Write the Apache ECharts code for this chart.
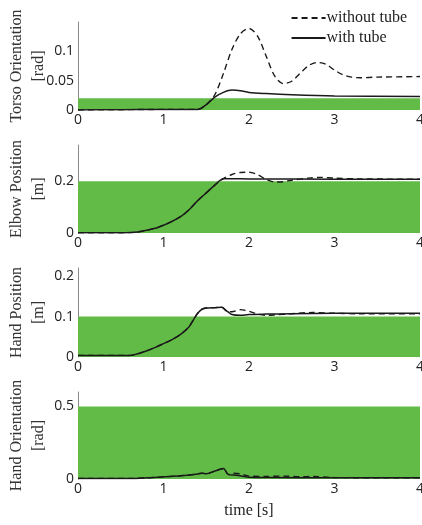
<!DOCTYPE html>
<html>
<head>
<meta charset="utf-8">
<script src="https://cdn.jsdelivr.net/npm/echarts@6/dist/echarts.min.js"></script>
<style>
  html, body { margin: 0; padding: 0; background: #fff; }
  #chart { width: 422px; height: 525px; }
</style>
</head>
<body>
<div id="chart"></div>
<script>
// [time, value] pairs
const torsoWithout = [[0,0],[0.5,0.0005],[1,0.001],[1.4,0.001],[1.5,0.009],[1.6,0.026],[1.7,0.062],[1.8,0.103],[1.9,0.13],[2.0,0.139],[2.1,0.126],[2.2,0.092],[2.3,0.058],[2.4,0.045],[2.5,0.049],[2.6,0.063],[2.7,0.076],[2.8,0.081],[2.9,0.078],[3.0,0.068],[3.1,0.06],[3.2,0.056],[3.3,0.055],[3.5,0.056],[4,0.057]];
const torsoWith = [[0,0],[0.5,0.0005],[1,0.001],[1.4,0.001],[1.5,0.009],[1.6,0.022],[1.7,0.03],[1.8,0.034],[1.9,0.033],[2.0,0.03],[2.2,0.028],[2.5,0.026],[3,0.024],[4,0.023]];

const elbowWith = [[0,0.001],[0.5,0.001],[0.7,0.004],[0.9,0.018],[1.0,0.03],[1.1,0.045],[1.2,0.063],[1.3,0.09],[1.4,0.125],[1.5,0.155],[1.6,0.185],[1.7,0.21],[1.8,0.21],[2,0.209],[3,0.208],[4,0.208]];
const elbowWithout = [[0,0.001],[0.5,0.001],[0.7,0.004],[0.9,0.018],[1.0,0.03],[1.1,0.045],[1.2,0.063],[1.3,0.09],[1.4,0.125],[1.5,0.155],[1.6,0.185],[1.7,0.21],[1.8,0.226],[1.9,0.234],[2.0,0.235],[2.1,0.226],[2.2,0.207],[2.3,0.197],[2.4,0.198],[2.5,0.204],[2.7,0.212],[2.85,0.215],[3.0,0.212],[3.3,0.209],[4,0.208]];

const handPosWith = [[0,0.004],[0.6,0.004],[0.8,0.015],[1.0,0.033],[1.1,0.043],[1.2,0.056],[1.3,0.075],[1.35,0.092],[1.4,0.108],[1.45,0.118],[1.5,0.121],[1.6,0.122],[1.68,0.123],[1.75,0.112],[1.8,0.105],[1.9,0.103],[2.0,0.105],[2.2,0.106],[2.5,0.107],[3,0.108],[4,0.108]];
const handPosWithout = [[0,0.004],[0.6,0.004],[0.8,0.015],[1.0,0.033],[1.1,0.043],[1.2,0.056],[1.3,0.075],[1.35,0.092],[1.4,0.108],[1.45,0.118],[1.5,0.121],[1.6,0.122],[1.68,0.123],[1.75,0.112],[1.8,0.112],[1.9,0.117],[2.0,0.113],[2.1,0.106],[2.2,0.103],[2.3,0.104],[2.5,0.107],[2.75,0.11],[3.0,0.108],[3.3,0.107],[4,0.107]];

const handOriWith = [[0,0.004],[0.6,0.004],[0.8,0.008],[1.0,0.015],[1.2,0.022],[1.4,0.035],[1.45,0.04],[1.5,0.036],[1.6,0.055],[1.7,0.072],[1.76,0.03],[1.85,0.026],[2.0,0.012],[2.2,0.01],[3,0.008],[4,0.008]];
const handOriWithout = [[0,0.004],[0.6,0.004],[0.8,0.008],[1.0,0.015],[1.2,0.022],[1.4,0.035],[1.45,0.04],[1.5,0.036],[1.6,0.055],[1.7,0.072],[1.76,0.03],[1.8,0.04],[1.9,0.035],[2.0,0.02],[2.2,0.018],[2.4,0.02],[2.6,0.015],[2.75,0.018],[3,0.01],[4,0.008]];

// tube upper bound (green band), y max and tick step per panel
const tubeBounds = [0.02, 0.2, 0.1, 0.5];
const yMax = [0.15, 0.34, 0.22, 0.6];
const yStep = [0.05, 0.2, 0.1, 0.5];
const yNames = ["Torso Orientation\n[rad]", "Elbow Position\n[m]", "Hand Position\n[m]", "Hand Orientation\n[rad]"];
const withoutSets = [torsoWithout, elbowWithout, handPosWithout, handOriWithout];
const withSets = [torsoWith, elbowWith, handPosWith, handOriWith];
const xTicks = [0, 1, 2, 3, 4];

const serif = "Liberation Serif";
const sans = "Open Sans";
const gridTops = [22, 145, 268, 392];
const gridHeights = [88, 88, 89, 87];

const chart = echarts.init(document.getElementById("chart"));

const grids = [], xAxes = [], yAxes = [], series = [];
for (let i = 0; i < 4; i++) {
  grids.push({ left: 78, right: 2, top: gridTops[i], height: gridHeights[i], outerBoundsMode: "none" });
  xAxes.push({
    type: "value", gridIndex: i,
    min: xTicks[0], max: xTicks[xTicks.length - 1], interval: 1,
    axisLine: { show: false }, axisTick: { show: false }, splitLine: { show: false },
    axisLabel: { color: "#222", fontFamily: sans, fontSize: 14, margin: 3 },
    name: i === 3 ? "time [s]" : "",
    nameLocation: "middle", nameGap: 24, nameMoveOverlap: false,
    nameTextStyle: { fontFamily: serif, fontSize: 16, color: "#222" }
  });
  yAxes.push({
    type: "value", gridIndex: i,
    min: 0, max: yMax[i], interval: yStep[i],
    axisLine: { show: true, lineStyle: { color: "#8a8a8a", width: 1 } },
    axisTick: { show: false }, splitLine: { show: false },
    axisLabel: { color: "#222", fontFamily: sans, fontSize: 14, margin: 4, showMaxLabel: false },
    name: yNames[i], nameLocation: "middle", nameRotate: 90, nameGap: 28, nameMoveOverlap: false,
    nameTextStyle: { fontFamily: serif, fontSize: 16, lineHeight: 22, color: "#333" }
  });
  series.push({
    name: "without tube", type: "line", xAxisIndex: i, yAxisIndex: i,
    data: withoutSets[i], symbol: "none", smooth: 0.3, z: 3,
    itemStyle: { color: "#1a1a1a" },
    lineStyle: { color: "#1a1a1a", width: 1.4, type: [6, 4] },
    markArea: {
      silent: true,
      itemStyle: { color: "#63bb47" },
      data: [[{ coord: [xTicks[0], 0] }, { coord: [xTicks[xTicks.length - 1], tubeBounds[i]] }]]
    }
  });
  series.push({
    name: "with tube", type: "line", xAxisIndex: i, yAxisIndex: i,
    data: withSets[i], symbol: "none", smooth: 0.3, z: 4,
    itemStyle: { color: "#1a1a1a" },
    lineStyle: { color: "#1a1a1a", width: 1.5 }
  });
}

chart.setOption({
  animation: false,
  legend: {
    orient: "vertical", right: 10, top: 5,
    itemWidth: 34, itemHeight: 10, itemGap: 4,
    itemStyle: { opacity: 0 },
    textStyle: { fontFamily: serif, fontSize: 16, color: "#222", padding: [0, 0, 0, -4] },
    data: ["without tube", "with tube"]
  },
  grid: grids,
  xAxis: xAxes,
  yAxis: yAxes,
  series: series
});
</script>
</body>
</html>
